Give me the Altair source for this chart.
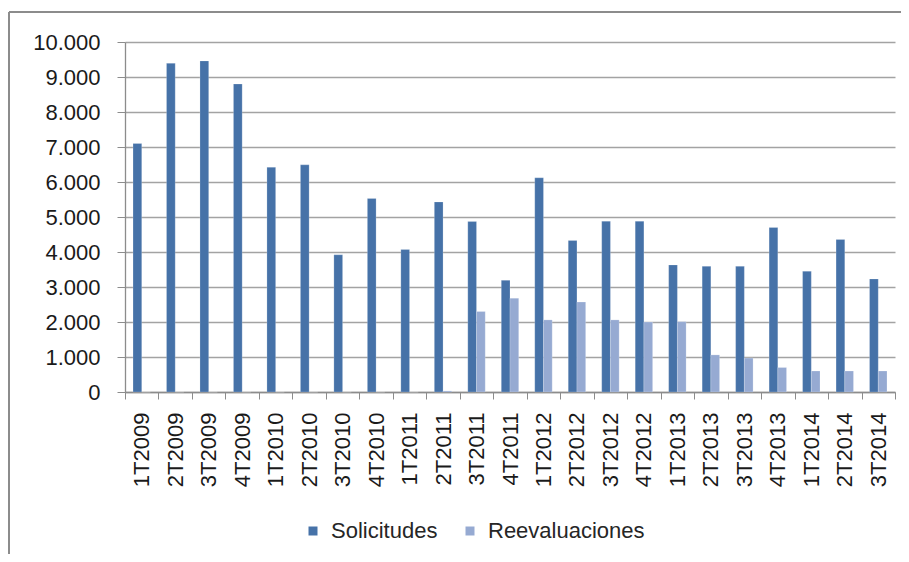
import altair as alt
import pandas as pd

quarters = ["1T2009", "2T2009", "3T2009", "4T2009", "1T2010", "2T2010", "3T2010", "4T2010",
            "1T2011", "2T2011", "3T2011", "4T2011", "1T2012", "2T2012", "3T2012", "4T2012",
            "1T2013", "2T2013", "3T2013", "4T2013", "1T2014", "2T2014", "3T2014"]
solicitudes = [7100, 9390, 9460, 8800, 6420, 6490, 3920, 5530,
               4070, 5430, 4870, 3190, 6120, 4330, 4880, 4880,
               3630, 3590, 3590, 4700, 3450, 4360, 3230]
reevaluaciones = [0, 0, 0, 0, 0, 0, 0, 0,
                  0, 30, 2300, 2680, 2060, 2570, 2060, 2000,
                  2010, 1060, 970, 700, 600, 600, 600]
series_names = ["Solicitudes", "Reevaluaciones"]
series_colors = ["#4672A8", "#96AAD2"]
y_ticks = list(range(0, 10001, 1000))

rows = []
for q, s, r in zip(quarters, solicitudes, reevaluaciones):
    rows.append({"trimestre": q, "serie": series_names[0], "valor": s})
    rows.append({"trimestre": q, "serie": series_names[1], "valor": r})
df = pd.DataFrame(rows)

FONT = "Liberation Sans"

bars = alt.Chart(df).mark_bar(stroke="white", strokeWidth=0.4, strokeOpacity=0.5).encode(
    x=alt.X("trimestre:N", sort=quarters, title=None,
            scale=alt.Scale(paddingInner=0, paddingOuter=0),
            axis=alt.Axis(labelAngle=270, labelAlign="right", labelBaseline="middle",
                          labelPadding=13, tickBand="extent", tickSize=7,
                          tickColor="#8c8c8c", domainColor="#8c8c8c", domainWidth=1.3,
                          labelFont=FONT, labelFontSize=22, labelColor="#1a1a1a",
                          grid=False)),
    xOffset=alt.XOffset("serie:N", sort=series_names,
                        scale=alt.Scale(paddingInner=0, paddingOuter=0.92)),
    y=alt.Y("valor:Q", title=None,
            scale=alt.Scale(domain=[0, 10000], nice=False),
            axis=alt.Axis(values=y_ticks, tickSize=8, tickColor="#8c8c8c",
                          domainColor="#8c8c8c", domainWidth=1.3,
                          gridColor="#a3a3a3", gridWidth=1.3,
                          labelPadding=17, labelFont=FONT, labelFontSize=22,
                          labelColor="#1a1a1a",
                          labelExpr="replace(format(datum.value, ','), ',', '.')")),
    color=alt.Color("serie:N", sort=series_names,
                    scale=alt.Scale(domain=series_names, range=series_colors),
                    legend=alt.Legend(title=None, orient="none", direction="horizontal",
                                      legendX=177, legendY=478,
                                      symbolType="square", symbolSize=81,
                                      symbolStrokeWidth=0, labelOffset=7,
                                      columnPadding=21,
                                      labelFont=FONT, labelFontSize=22,
                                      labelColor="#262626")),
)

one = alt.Data(values=[{"a": 1}])
top_border = alt.Chart(one).mark_rule(color="#8c8c8c", strokeWidth=2).encode(
    x=alt.value(-116), x2=alt.value(800), y=alt.value(-30))
left_border = alt.Chart(one).mark_rule(color="#8c8c8c", strokeWidth=2).encode(
    x=alt.value(-116), y=alt.value(-30), y2=alt.value(600))

chart = alt.layer(bars, top_border, left_border).properties(
    width=770, height=350,
    autosize=alt.AutoSizeParams(type="none"),
    padding={"left": 117, "top": 34, "right": 6, "bottom": 162},
    background="white",
).configure_view(stroke=None)

chart.save("out.html", embed_options={"renderer": "svg", "actions": False})
